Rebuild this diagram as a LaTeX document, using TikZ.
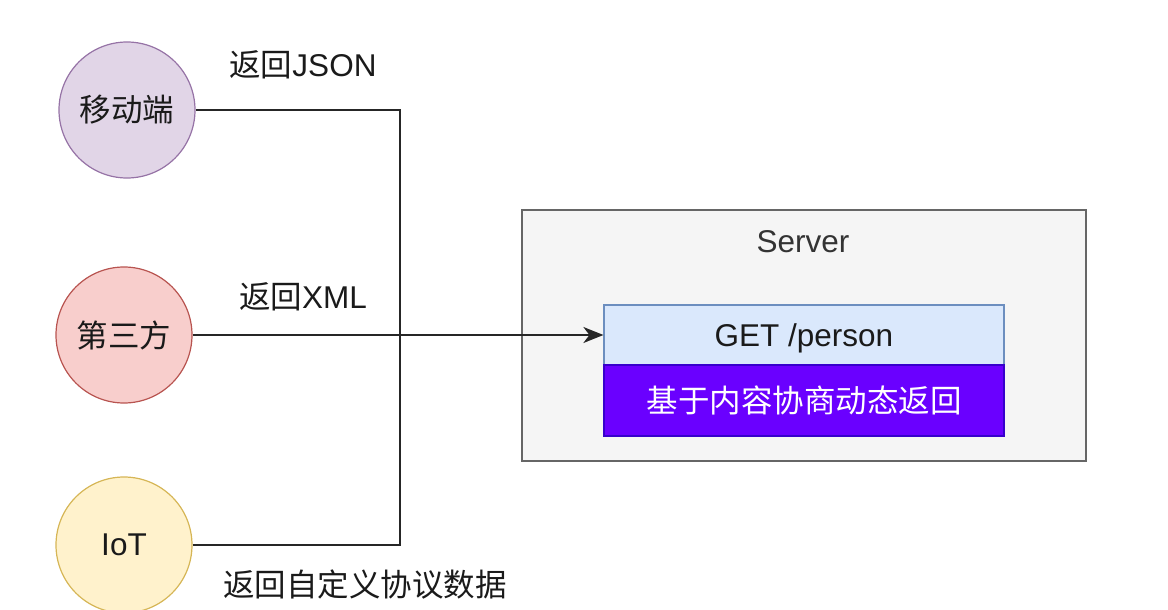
\documentclass[tikz,border=0pt]{standalone}
\usepackage{fontspec}
\setmainfont{Liberation Sans}
\newfontfamily\cjk{Noto Sans CJK SC}
\usetikzlibrary{arrows.meta}
\definecolor{purpfill}{HTML}{E1D5E7}
\definecolor{purpline}{HTML}{9673A6}
\definecolor{redfill}{HTML}{F8CECC}
\definecolor{redline}{HTML}{B85450}
\definecolor{yelfill}{HTML}{FFF2CC}
\definecolor{yelline}{HTML}{D6B656}
\definecolor{srvfill}{HTML}{F5F5F5}
\definecolor{srvline}{HTML}{666666}
\definecolor{srvtext}{HTML}{333333}
\definecolor{bluefill}{HTML}{DAE8FC}
\definecolor{blueline}{HTML}{6C8EBF}
\definecolor{violetfill}{HTML}{6A00FF}
\definecolor{violetline}{HTML}{3700CC}
\definecolor{ink}{HTML}{1A1A1A}
\definecolor{wire}{HTML}{262626}
\begin{document}
\begin{tikzpicture}[x=1pt,y=-1pt,
  big/.style={font=\fontsize{31.5}{38}\selectfont, text=ink},
  client/.style={circle, draw, line width=1.2pt, minimum size=136pt, inner sep=0pt, big},
  lbl/.style={big, inner sep=0pt},
  conn/.style={draw=wire, line width=2pt},
  box/.style={rectangle, draw, line width=1.2pt, inner sep=0pt, big}
]
\useasboundingbox (0,0) rectangle (1168,610);
% server container
\node[box, fill=srvfill, draw=srvline, minimum width=564pt, minimum height=251pt] (server) at (804,335.5) {};
\node[lbl, text=srvtext] (srvlabel) at (803,242) {Server};
\node[box, fill=bluefill, draw=blueline, minimum width=400pt, minimum height=60pt, text depth=0pt] (get) at (804,335) {GET /person};
\node[box, fill=violetfill, draw=violetline, minimum width=400pt, minimum height=71pt, text=white] (neg) at (804,400.5) {\cjk 基于内容协商动态返回};
% clients
\node[client, fill=purpfill, draw=purpline] (mobile) at (127,110) {\cjk 移动端};
\node[client, fill=redfill, draw=redline] (third) at (124,335) {\cjk 第三方};
\node[client, fill=yelfill, draw=yelline] (iot) at (124,545) {IoT};
% junction
\coordinate (j) at (400,335);
% connectors
\draw[conn] (mobile.east) -| (j);
\draw[conn] (iot.east) -| (j);
\draw[conn, -{Stealth[length=20pt,width=16pt,inset=6pt]}] (third.east) -- (get.west);
% labels
\node[lbl] (ljson) at (303,65) {{\cjk 返回}JSON};
\node[lbl] (lxml) at (303,297) {{\cjk 返回}XML};
\node[lbl] (lcustom) at (365,585) {\cjk 返回自定义协议数据};
\end{tikzpicture}
\end{document}
